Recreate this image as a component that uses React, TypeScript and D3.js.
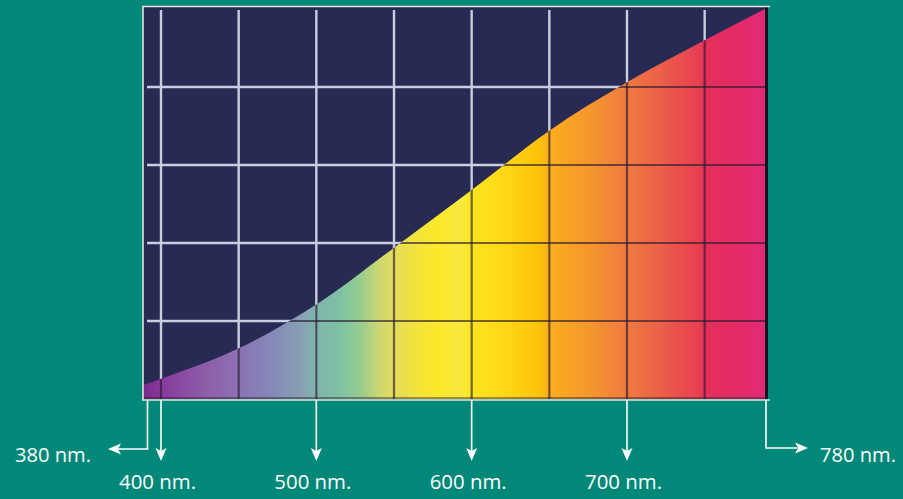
import React from "react";
import * as d3 from "d3";

// Wavelength (nm) of each sample along the curve, and relative power (grid units)
const wavelengths = [388, 400, 450, 500, 550, 600, 650, 700, 750, 791];
const power = [0.18, 0.26, 0.65, 1.21, 1.94, 2.68, 3.44, 4.06, 4.6, 5.02];

// Grid lines
const gridX = [400, 450, 500, 550, 600, 650, 700, 750];
const gridY = [1, 2, 3, 4];

// Labelled marks below the chart
const tickLabels = ["400 nm.", "500 nm.", "600 nm.", "700 nm."];
const tickValues = [400, 500, 600, 700];
const edgeLabels = ["380 nm.", "780 nm."];

// Spectrum colour stops (wavelength -> colour)
const spectrumNm = [388, 399, 425, 450, 464, 490, 500, 515, 528, 541, 550, 567, 580, 592, 600, 625, 644, 650, 676, 700, 721, 747, 750, 773, 791];
const spectrumColors = ["#7a2a8a", "#86379a", "#8d5aa8", "#8c72b2", "#8680b8", "#87a0b4", "#80b4ac", "#7cc2a4", "#96cc90", "#cfd870", "#e3dc5a", "#f5e535", "#fde82a", "#f8ea40", "#fde51e", "#fed414", "#fdc10a", "#fbae1c", "#f4962e", "#f07a40", "#ec6048", "#e73e52", "#e5305a", "#e42a66", "#e22a7e"];

const W = 903;
const H = 499;
const left = 143;
const right = 768;
const top = 7;
const bottom = 399;

export default function App() {
  const x = d3.scaleLinear().domain([400, 700]).range([161, 627]);
  const y = d3.scaleLinear().domain([0, 5]).range([bottom, 9]);

  const pts: [number, number][] = wavelengths.map((w, i) => [x(w), y(power[i])]);
  pts[0][0] = left;
  pts[pts.length - 1][0] = right;

  const area = d3
    .area<[number, number]>()
    .x((d) => d[0])
    .y0(bottom)
    .y1((d) => d[1])
    .curve(d3.curveMonotoneX);
  const areaPath = area(pts) || "";

  const arrowDown = (cx: number, tipY: number) =>
    `M${cx},${tipY} L${cx - 5.5},${tipY - 13} L${cx},${tipY - 10} L${cx + 5.5},${tipY - 13} Z`;
  const arrowLeft = (tipX: number, cy: number) =>
    `M${tipX},${cy} L${tipX + 13},${cy - 5.5} L${tipX + 10},${cy} L${tipX + 13},${cy + 5.5} Z`;
  const arrowRight = (tipX: number, cy: number) =>
    `M${tipX},${cy} L${tipX - 13},${cy - 5.5} L${tipX - 10},${cy} L${tipX - 13},${cy + 5.5} Z`;

  const textStyle: React.CSSProperties = {
    fontFamily: "'Open Sans', 'Noto Sans', sans-serif",
    fontSize: 20,
    fill: "#ffffff",
  };

  return (
    <svg
      width={W}
      height={H}
      style={{ position: "absolute", left: 0, top: 0, display: "block" }}
    >
      <defs>
        <linearGradient id="spec" gradientUnits="userSpaceOnUse" x1={left} x2={right} y1={0} y2={0}>
          {spectrumNm.map((nm, i) => (
            <stop
              key={i}
              offset={Math.max(0, Math.min(1, (x(nm) - left) / (right - left)))}
              stopColor={spectrumColors[i]}
            />
          ))}
        </linearGradient>
        <clipPath id="areaClip">
          <path d={areaPath} />
        </clipPath>
      </defs>
      <rect x={0} y={0} width={W} height={H} fill="#018878" />

      {/* plot background */}
      <rect x={left} y={top} width={right - left} height={bottom - top} fill="#272a53" />

      {/* light grid on dark */}
      <g stroke="#c8cfdf" strokeWidth={2.4}>
        {gridX.map((g) => (
          <line key={"vx" + g} x1={x(g)} x2={x(g)} y1={10} y2={bottom} />
        ))}
        {gridY.map((g) => (
          <line key={"hy" + g} x1={147} x2={right} y1={y(g)} y2={y(g)} />
        ))}
      </g>

      {/* spectrum area */}
      <path d={areaPath} fill="url(#spec)" />

      {/* dark grid on colour */}
      <g clipPath="url(#areaClip)" stroke="#2a1c30" strokeOpacity={0.65} strokeWidth={2.2}>
        {gridX.map((g) => (
          <line key={"dvx" + g} x1={x(g)} x2={x(g)} y1={10} y2={bottom} />
        ))}
        {gridY.map((g) => (
          <line key={"dhy" + g} x1={left} x2={right} y1={y(g)} y2={y(g)} />
        ))}
      </g>

      {/* frame */}
      <line x1={right - 1.5} x2={right - 1.5} y1={top} y2={bottom} stroke="#14121e" strokeWidth={3} />
      <line x1={left} x2={right} y1={bottom - 1} y2={bottom - 1} stroke="#2a2030" strokeOpacity={0.6} strokeWidth={1.5} />
      <line x1={142} x2={770} y1={6.5} y2={6.5} stroke="#e6e2dc" strokeWidth={1.6} />
      <line x1={143} x2={143} y1={6} y2={400.5} stroke="#e6e2dc" strokeWidth={1.6} />
      <line x1={142} x2={770} y1={400} y2={400} stroke="#e6e2dc" strokeWidth={1.6} />

      {/* arrows */}
      <g stroke="#ffffff" strokeWidth={1.6} fill="none">
        {tickValues.map((v) => (
          <line key={"a" + v} x1={x(v)} x2={x(v)} y1={bottom + 1} y2={452} />
        ))}
        <polyline points={`147.5,${bottom + 1} 147.5,449 118,449`} />
        <polyline points={`766,${bottom + 1} 766,448 797,448`} />
      </g>
      <g fill="#ffffff">
        {tickValues.map((v) => (
          <path key={"h" + v} d={arrowDown(x(v), 461)} />
        ))}
        <path d={arrowLeft(108, 449)} />
        <path d={arrowRight(808, 448)} />
      </g>

      {/* labels */}
      {tickValues.map((v, i) => (
        <text
          key={"t" + v}
          x={x(v) - 3.5}
          y={489}
          textAnchor="middle"
          textLength={77}
          lengthAdjust="spacingAndGlyphs"
          style={textStyle}
        >
          {tickLabels[i]}
        </text>
      ))}
      <text x={15} y={462} textLength={76} lengthAdjust="spacingAndGlyphs" style={textStyle}>
        {edgeLabels[0]}
      </text>
      <text x={820} y={462} textLength={76} lengthAdjust="spacingAndGlyphs" style={textStyle}>
        {edgeLabels[1]}
      </text>
    </svg>
  );
}
